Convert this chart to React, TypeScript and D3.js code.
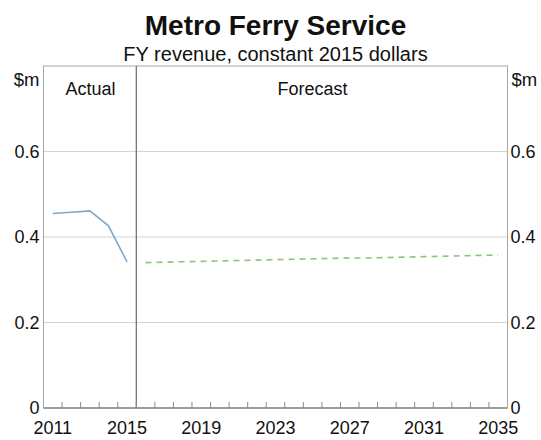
import React from "react";
import * as d3 from "d3";

const actualYears = [2011, 2012, 2013, 2014, 2015];
const actualValues = [0.455, 0.458, 0.461, 0.426, 0.342];
const forecastYears = [2016, 2017, 2018, 2019, 2020, 2021, 2022, 2023, 2024, 2025, 2026, 2027, 2028, 2029, 2030, 2031, 2032, 2033, 2034, 2035];
const forecastValues = [0.340, 0.341, 0.342, 0.343, 0.344, 0.345, 0.346, 0.347, 0.348, 0.349, 0.350, 0.351, 0.351, 0.352, 0.353, 0.354, 0.355, 0.356, 0.357, 0.358];
const xTickLabels = [2011, 2015, 2019, 2023, 2027, 2031, 2035];
const yTicks = [0, 0.2, 0.4, 0.6];

const W = 541, H = 440;
const L = 43.5, R = 507.5, T = 66, B = 408;
const FONT = "'Liberation Sans', Arial, sans-serif";

export default function App() {
  const x = d3.scaleLinear().domain([2010.5, 2035.5]).range([L, R]);
  const y = d3.scaleLinear().domain([0, 0.8]).range([B, T]);
  const line = d3.line<[number, number]>().x(d => x(d[0])).y(d => y(d[1]));
  const actual = line(actualYears.map((yr, i) => [yr, actualValues[i]]));
  const forecast = line(forecastYears.map((yr, i) => [yr, forecastValues[i]]));
  const tickYears = d3.range(2011, 2036);
  const divider = x(2015.5);
  const mid = (L + R) / 2;

  return (
    <svg width={W} height={H} style={{ position: "absolute", left: 0, top: 0, background: "#fff" }} fontFamily={FONT}>
      <rect width={W} height={H} fill="#fff" />
      <text x={mid} y={35} textAnchor="middle" fontSize={28} fontWeight="bold" fill="#111">Metro Ferry Service</text>
      <text x={mid} y={61} textAnchor="middle" fontSize={20} fill="#111">FY revenue, constant 2015 dollars</text>
      {yTicks.filter(v => v > 0).map(v => (
        <line key={v} x1={L} x2={R} y1={y(v)} y2={y(v)} stroke="#d4d4d4" strokeWidth={1} />
      ))}
      <rect x={L} y={T} width={R - L} height={B - T} fill="none" stroke="#a8a8a8" strokeWidth={1} />
      <line x1={divider} x2={divider} y1={T} y2={B} stroke="#6a6a6a" strokeWidth={1.2} />
      <line x1={L} x2={R} y1={B} y2={B} stroke="#8a8a8a" strokeWidth={1.5} />
      {tickYears.slice(1).map(yr => (
        <line key={yr} x1={x(yr - 0.5)} x2={x(yr - 0.5)} y1={B} y2={B - 6} stroke="#8a8a8a" strokeWidth={1} />
      ))}
      {yTicks.map(v => (
        <g key={v}>
          <text x={L - 4} y={y(v)} dy="0.36em" textAnchor="end" fontSize={18} fill="#111">{v === 0 ? "0" : v.toFixed(1)}</text>
          <text x={R + 3} y={y(v)} dy="0.36em" textAnchor="start" fontSize={18} fill="#111">{v === 0 ? "0" : v.toFixed(1)}</text>
        </g>
      ))}
      <text x={L - 4} y={86} textAnchor="end" fontSize={18.5} fill="#111">$m</text>
      <text x={R + 4} y={86} textAnchor="start" fontSize={18.5} fill="#111">$m</text>
      {xTickLabels.map(yr => (
        <text key={yr} x={x(yr)} y={434} textAnchor="middle" fontSize={18} fill="#111">{yr}</text>
      ))}
      <text x={90.5} y={95} textAnchor="middle" fontSize={18} fill="#111">Actual</text>
      <text x={312.5} y={95} textAnchor="middle" fontSize={18} fill="#111">Forecast</text>
      <path d={actual ?? ""} fill="none" stroke="#7fa8c9" strokeWidth={1.6} />
      <path d={forecast ?? ""} fill="none" stroke="#8cc57a" strokeWidth={1.6} strokeDasharray="6,5" />
    </svg>
  );
}
